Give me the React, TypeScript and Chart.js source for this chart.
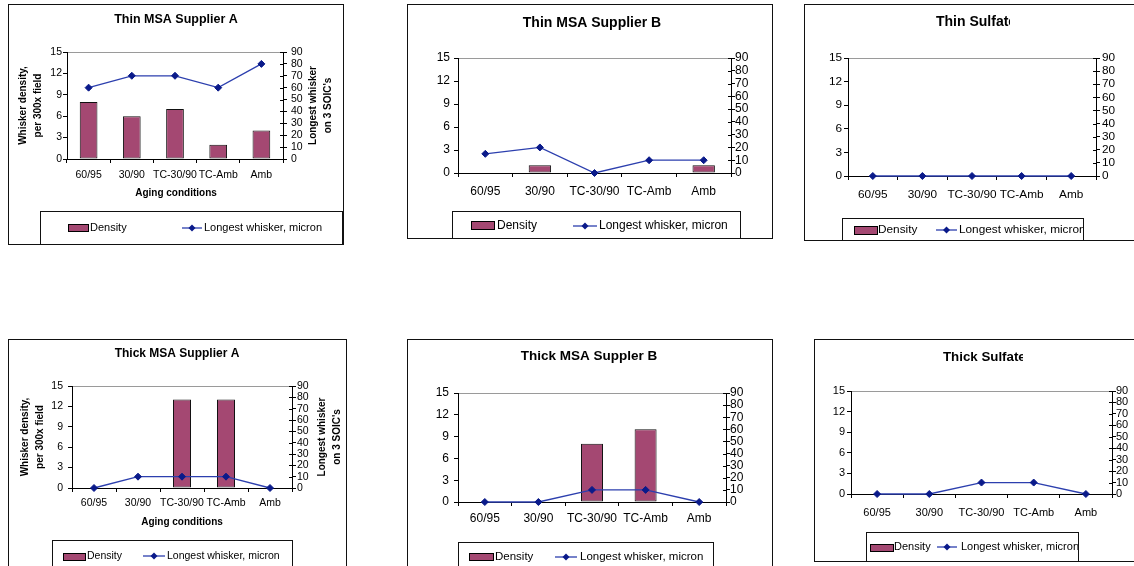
import React, { useEffect, useRef } from 'react';
import { Chart, registerables } from 'chart.js';

Chart.register(...registerables);

// ---------------- data ----------------
const categories = ['60/95', '30/90', 'TC-30/90', 'TC-Amb', 'Amb'];
const densityTicks = [0, 3, 6, 9, 12, 15];
const whiskerTicks = [0, 10, 20, 30, 40, 50, 60, 70, 80, 90];
const seriesNames = ['Density', 'Longest whisker, micron'];
const leftAxisTitle = ['Whisker density,', 'per 300x field'];
const rightAxisTitle = ['Longest whisker', "on 3 SOIC's"];
const xAxisTitle = 'Aging conditions';

const thinA_density = [8, 6, 7, 2, 4];
const thinA_whisker = [60, 70, 70, 60, 80];
const thinB_density = [0, 1, 0, 0, 1];
const thinB_whisker = [15, 20, 0, 10, 10];
const thinS_density = [0, 0, 0, 0, 0];
const thinS_whisker = [0, 0, 0, 0, 0];
const thickA_density = [0, 0, 13, 13, 0];
const thickA_whisker = [0, 10, 10, 10, 0];
const thickB_density = [0, 0, 8, 10, 0];
const thickB_whisker = [0, 0, 10, 10, 0];
const thickS_density = [0, 0, 0, 0, 0];
const thickS_whisker = [0, 0, 10, 10, 0];

// ---------------- styles ----------------
const FONT = '"Liberation Sans", Arial, Helvetica, sans-serif';
const BAR_COLOR = '#A44872';
const LINE_COLOR = '#2C3FAE';
const MARKER_COLOR = '#0A1A8A';
const AX = 30;
const TL = 4;

type Rect = [number, number, number, number];
interface Spec {
  title: string;
  density: number[];
  whisker: number[];
  box: Rect; // x y w h (page)
  plot: Rect; // l t r b (page)
  titlePos: { x: number; y: number; size: number; align: 'center' | 'left'; clip?: number };
  tick: number;
  leftPad: number;
  rightPad: number;
  xLabelY: number;
  axisTitles?: { size: number; xTitle: [number, number]; left: [number, number]; right: [number, number] };
  legend: { box: Rect; swatch: Rect; t1: number; line: [number, number]; t2: number; cy: number; size: number };
}

const panels: Spec[] = [
  {
    title: 'Thin MSA Supplier A', density: thinA_density, whisker: thinA_whisker,
    box: [8, 4, 336, 241], plot: [67, 52, 283, 159],
    titlePos: { x: 176, y: 20, size: 12.5, align: 'center' },
    tick: 10.5, leftPad: 1, rightPad: 4, xLabelY: 175,
    axisTitles: { size: 10, xTitle: [176, 193], left: [23, 38], right: [313, 328] },
    legend: { box: [40, 211, 302, 34], swatch: [68, 224, 20, 7], t1: 90, line: [182, 202], t2: 204, cy: 228, size: 11 },
  },
  {
    title: 'Thin MSA Supplier B', density: thinB_density, whisker: thinB_whisker,
    box: [407, 4, 366, 235], plot: [458, 58, 731, 173],
    titlePos: { x: 592, y: 23, size: 14, align: 'center' },
    tick: 12, leftPad: 4, rightPad: 0, xLabelY: 192,
    legend: { box: [452, 211, 288, 27], swatch: [471, 221, 23, 8], t1: 497, line: [573, 597], t2: 599, cy: 226, size: 12 },
  },
  {
    title: 'Thin Sulfate', density: thinS_density, whisker: thinS_whisker,
    box: [804, 4, 340, 237], plot: [848, 58, 1096, 176],
    titlePos: { x: 936, y: 22, size: 14, align: 'left', clip: 1010 },
    tick: 11.8, leftPad: 2, rightPad: 2, xLabelY: 195,
    legend: { box: [842, 218, 241, 23], swatch: [854, 226, 23, 8], t1: 878, line: [936, 957], t2: 959, cy: 230, size: 11.8 },
  },
  {
    title: 'Thick MSA Supplier A', density: thickA_density, whisker: thickA_whisker,
    box: [8, 339, 339, 240], plot: [72, 386, 292, 488],
    titlePos: { x: 177, y: 354, size: 12, align: 'center' },
    tick: 10.5, leftPad: 5, rightPad: 1, xLabelY: 503,
    axisTitles: { size: 10, xTitle: [182, 522], left: [25, 40], right: [322, 337] },
    legend: { box: [52, 540, 240, 40], swatch: [63, 553, 22, 7], t1: 87, line: [143, 165], t2: 167, cy: 556, size: 10.5 },
  },
  {
    title: 'Thick MSA Suppler B', density: thickB_density, whisker: thickB_whisker,
    box: [407, 339, 366, 240], plot: [458, 393, 726, 502],
    titlePos: { x: 589, y: 356, size: 13.5, align: 'center' },
    tick: 12, leftPad: 5, rightPad: 0, xLabelY: 519,
    legend: { box: [458, 542, 255, 40], swatch: [469, 553, 24, 7], t1: 495, line: [555, 577], t2: 580, cy: 557, size: 11.5 },
  },
  {
    title: 'Thick Sulfate', density: thickS_density, whisker: thickS_whisker,
    box: [814, 339, 330, 223], plot: [851, 391, 1112, 494],
    titlePos: { x: 943, y: 357, size: 13.3, align: 'left', clip: 1023 },
    tick: 11, leftPad: 2, rightPad: 0, xLabelY: 513,
    legend: { box: [866, 532, 212, 30], swatch: [870, 544, 23, 7], t1: 894, line: [937, 957], t2: 961, cy: 547, size: 11 },
  },
];

function makeDecor(s: Spec) {
  const [bx, by, bw, bh] = s.box;
  return {
    id: 'decor',
    afterDraw(chart: any) {
      const ctx: CanvasRenderingContext2D = chart.ctx;
      ctx.save();
      ctx.fillStyle = '#000';
      ctx.strokeStyle = '#000';
      // inner ticks on right axis (crossing)
      const y1 = chart.scales.y1;
      const r = chart.chartArea.right;
      ctx.lineWidth = 1;
      ctx.beginPath();
      whiskerTicks.forEach((v) => {
        const y = Math.round(y1.getPixelForValue(v)) + 0.5;
        ctx.moveTo(r - 3, y);
        ctx.lineTo(r, y);
      });
      ctx.stroke();

      // title
      const tp = s.titlePos;
      ctx.save();
      if (tp.clip) {
        ctx.beginPath();
        ctx.rect(0, 0, tp.clip - bx, bh);
        ctx.clip();
      }
      ctx.font = `bold ${tp.size}px ${FONT}`;
      ctx.textAlign = tp.align;
      ctx.textBaseline = 'middle';
      ctx.fillText(s.title, tp.x - bx, tp.y - by);
      ctx.restore();

      // axis titles
      if (s.axisTitles) {
        const a = s.axisTitles;
        ctx.font = `bold ${a.size}px ${FONT}`;
        ctx.textAlign = 'center';
        ctx.textBaseline = 'middle';
        ctx.fillText(xAxisTitle, a.xTitle[0] - bx, a.xTitle[1] - by);
        const cy = (chart.chartArea.top + chart.chartArea.bottom) / 2;
        const drawRot = (lines: string[], xs: [number, number]) => {
          lines.forEach((t, i) => {
            ctx.save();
            ctx.translate(xs[i] - bx, cy);
            ctx.rotate(-Math.PI / 2);
            ctx.fillText(t, 0, 0);
            ctx.restore();
          });
        };
        drawRot(leftAxisTitle, a.left);
        drawRot(rightAxisTitle, a.right);
      }

      // legend
      const L = s.legend;
      const [lx, ly, lw, lh] = L.box;
      ctx.save();
      ctx.strokeStyle = '#111';
      ctx.lineWidth = 1;
      ctx.strokeRect(lx - bx + 0.5, ly - by + 0.5, lw, lh);
      ctx.beginPath();
      ctx.rect(lx - bx, ly - by, lw, lh);
      ctx.clip();
      const [sx, sy, sw, sh] = L.swatch;
      ctx.fillStyle = BAR_COLOR;
      ctx.fillRect(sx - bx, sy - by, sw, sh);
      ctx.strokeStyle = '#000';
      ctx.strokeRect(sx - bx + 0.5, sy - by + 0.5, sw, sh);
      ctx.fillStyle = '#000';
      ctx.font = `${L.size}px ${FONT}`;
      ctx.textAlign = 'left';
      ctx.textBaseline = 'middle';
      ctx.fillText(seriesNames[0], L.t1 - bx, L.cy - by);
      ctx.strokeStyle = LINE_COLOR;
      ctx.lineWidth = 1.3;
      ctx.beginPath();
      ctx.moveTo(L.line[0] - bx, L.cy - by);
      ctx.lineTo(L.line[1] - bx, L.cy - by);
      ctx.stroke();
      const mx = (L.line[0] + L.line[1]) / 2 - bx;
      const my = L.cy - by;
      ctx.fillStyle = MARKER_COLOR;
      ctx.beginPath();
      ctx.moveTo(mx, my - 3.5);
      ctx.lineTo(mx + 3.5, my);
      ctx.lineTo(mx, my + 3.5);
      ctx.lineTo(mx - 3.5, my);
      ctx.closePath();
      ctx.fill();
      ctx.fillStyle = '#000';
      ctx.fillText(seriesNames[1], L.t2 - bx, L.cy - by);
      ctx.restore();

      // panel border
      ctx.strokeStyle = '#111';
      ctx.lineWidth = 1;
      ctx.strokeRect(0.5, 0.5, bw - 1, bh - 1);
      ctx.restore();
    },
  };
}

function Panel({ s }: { s: Spec }) {
  const ref = useRef<HTMLCanvasElement>(null);
  useEffect(() => {
    if (!ref.current) return;
    const [bx, by, bw, bh] = s.box;
    const [pl, pt, pr, pb] = s.plot;
    const xPad = s.xLabelY - pb - TL - (s.tick * 1.2) / 2;
    const chart = new Chart(ref.current, {
      type: 'bar',
      data: {
        labels: categories,
        datasets: [
          {
            type: 'bar',
            label: seriesNames[0],
            data: s.density,
            yAxisID: 'y',
            backgroundColor: BAR_COLOR,
            borderColor: '#111',
            borderWidth: 1,
            borderSkipped: false,
            barPercentage: 0.41,
            categoryPercentage: 1,
            order: 1,
          },
          {
            type: 'line',
            label: seriesNames[1],
            data: s.whisker,
            yAxisID: 'y1',
            borderColor: LINE_COLOR,
            borderWidth: 1.3,
            pointStyle: 'rectRot',
            pointRadius: 3.5,
            pointBackgroundColor: MARKER_COLOR,
            pointBorderColor: MARKER_COLOR,
            pointBorderWidth: 1,
            tension: 0,
            clip: false,
            order: 0,
          } as any,
        ],
      },
      options: {
        responsive: false,
        maintainAspectRatio: false,
        animation: false,
        devicePixelRatio: 1,
        events: [],
        layout: {
          padding: {
            left: pl - bx - AX,
            top: pt - by,
            right: bx + bw - pr - AX,
            bottom: by + bh - pb - AX,
          },
        },
        plugins: {
          legend: { display: false },
          title: { display: false },
          tooltip: { enabled: false },
        },
        scales: {
          x: {
            type: 'category',
            offset: true,
            afterFit: (sc: any) => { sc.height = AX; },
            grid: { offset: true, drawOnChartArea: false, drawTicks: true, tickLength: TL, tickColor: '#000' },
            border: { display: true, color: '#000', width: 1 },
            ticks: { color: '#000', font: { family: FONT, size: s.tick }, padding: xPad, maxRotation: 0, autoSkip: false },
          },
          y: {
            type: 'linear',
            position: 'left',
            min: densityTicks[0],
            max: densityTicks[densityTicks.length - 1],
            afterBuildTicks: (sc: any) => { sc.ticks = densityTicks.map((v) => ({ value: v })); },
            afterFit: (sc: any) => { sc.width = AX; },
            grid: {
              drawOnChartArea: true,
              color: (c: any) => (c.tick && c.tick.value === densityTicks[densityTicks.length - 1] ? '#9a9a9a' : 'rgba(0,0,0,0)'),
              tickColor: '#000',
              tickLength: TL,
            },
            border: { display: true, color: '#000', width: 1 },
            ticks: { color: '#000', font: { family: FONT, size: s.tick }, padding: s.leftPad, autoSkip: false },
          },
          y1: {
            type: 'linear',
            position: 'right',
            min: whiskerTicks[0],
            max: whiskerTicks[whiskerTicks.length - 1],
            afterBuildTicks: (sc: any) => { sc.ticks = whiskerTicks.map((v) => ({ value: v })); },
            afterFit: (sc: any) => { sc.width = AX; },
            grid: { drawOnChartArea: false, tickColor: '#000', tickLength: TL },
            border: { display: true, color: '#000', width: 1 },
            ticks: { color: '#000', font: { family: FONT, size: s.tick }, padding: s.rightPad, autoSkip: false },
          },
        },
      },
      plugins: [makeDecor(s)],
    } as any);
    return () => chart.destroy();
  }, [s]);
  const [bx, by, bw, bh] = s.box;
  return (
    <canvas
      ref={ref}
      width={bw}
      height={bh}
      style={{ position: 'absolute', left: bx, top: by, width: bw, height: bh }}
    />
  );
}

export default function App() {
  return (
    <div
      style={{
        position: 'fixed',
        left: 0,
        top: 0,
        width: 1134,
        height: 566,
        overflow: 'hidden',
        background: '#fff',
      }}
    >
      {panels.map((p) => (
        <Panel key={p.title} s={p} />
      ))}
    </div>
  );
}
